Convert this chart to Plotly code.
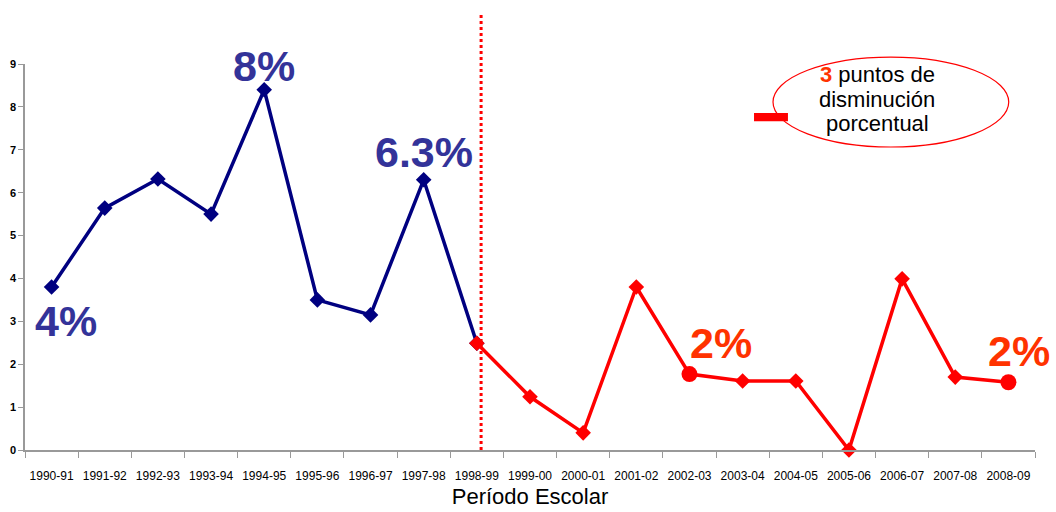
import plotly.graph_objects as go

periods = ["1990-91", "1991-92", "1992-93", "1993-94", "1994-95", "1995-96", "1996-97",
           "1997-98", "1998-99", "1999-00", "2000-01", "2001-02", "2002-03", "2003-04",
           "2004-05", "2005-06", "2006-07", "2007-08", "2008-09"]
blue_periods = periods[:9]
blue_values = [3.80, 5.64, 6.32, 5.50, 8.40, 3.50, 3.15, 6.30, 2.49]
red_periods = periods[8:]
red_values = [2.49, 1.24, 0.40, 3.80, 1.77, 1.61, 1.61, 0.0, 3.99, 1.70, 1.58]
red_symbols = ["diamond", "diamond", "diamond", "diamond", "circle", "diamond",
               "diamond", "diamond", "diamond", "diamond", "circle"]
red_sizes = [12, 12, 12, 12, 16, 12, 12, 12, 12, 12, 16]

label_texts = ["4%", "8%", "6.3%", "2%", "2%"]
label_x = ["1990-91", "1994-95", "1997-98", "2002-03", "2008-09"]
label_y = [3.0, 8.95, 6.95, 2.5, 2.3]
label_colors = ["#333399", "#333399", "#333399", "#FF3300", "#FF3300"]
label_xshift = [14, 0, 0, 32, 11]

note_lines = ["<b><span style='color:#FF3300'>3</span></b> puntos de", "disminución", "porcentual"]
note_y = [0.974, 0.909, 0.845]

fig = go.Figure()
fig.add_trace(go.Scatter(
    x=blue_periods, y=blue_values, mode="lines+markers",
    line=dict(color="#000080", width=3.5),
    marker=dict(symbol="diamond", size=12, color="#000080", opacity=1),
    cliponaxis=False, showlegend=False, hoverinfo="skip"))
fig.add_trace(go.Scatter(
    x=red_periods, y=red_values, mode="lines+markers",
    line=dict(color="#FF0000", width=3.5),
    marker=dict(symbol=red_symbols, size=red_sizes, color="#FF0000", opacity=1,
                line=dict(width=0)),
    cliponaxis=False, showlegend=False, hoverinfo="skip"))

for t, x, y, c, xs in zip(label_texts, label_x, label_y, label_colors, label_xshift):
    fig.add_annotation(x=x, y=y, text="<b>%s</b>" % t, showarrow=False, xshift=xs,
                       xanchor="center", yanchor="middle",
                       font=dict(family="Liberation Sans, Arial, sans-serif", size=43, color=c))

# vertical dotted separator
fig.add_shape(type="line", xref="x", yref="paper", x0=8.08, x1=8.08, y0=0, y1=1.13,
              line=dict(color="#FF0000", width=3, dash="dot"))

# ellipse note
fig.add_shape(type="circle", xref="paper", yref="paper", x0=0.7406, x1=0.974,
              y0=0.785, y1=1.018, line=dict(color="#FF0000", width=1.2))
for t, y in zip(note_lines, note_y):
    fig.add_annotation(xref="paper", yref="paper", x=0.8436, y=y, showarrow=False,
                       xanchor="center", yanchor="middle", text=t,
                       font=dict(family="Liberation Sans, Arial, sans-serif", size=22,
                                 color="#000000"))
fig.add_shape(type="rect", xref="paper", yref="paper", x0=0.7218, x1=0.7554,
              y0=0.852, y1=0.873, line=dict(width=0), fillcolor="#FF0000")

fig.update_layout(
    width=1056, height=512,
    margin=dict(l=25, r=21, t=64, b=62),
    paper_bgcolor="white", plot_bgcolor="white",
    xaxis=dict(type="category", categoryorder="array", categoryarray=periods,
               range=[-0.5, 18.5], showgrid=False, showline=True, linecolor="#999999",
               linewidth=1.5, ticks="outside", tickson="boundaries", ticklen=6,
               tickcolor="#999999", zeroline=False, tickangle=0, automargin=False,
               ticklabelstandoff=14,
               tickfont=dict(family="Liberation Sans, Arial, sans-serif",
                             size=12, color="#000000"),
               title=dict(text="Período Escolar", standoff=6,
                          font=dict(family="Liberation Sans, Arial, sans-serif", size=22,
                                    color="#000000"))),
    yaxis=dict(range=[0, 9], tickvals=list(range(10)), showgrid=False, showline=True,
               linecolor="#999999", linewidth=1.5, ticks="outside", ticklen=5,
               tickcolor="#999999", zeroline=False, automargin=False,
               tickfont=dict(family="Liberation Sans, Arial, sans-serif",
                             size=11, color="#000000", weight="bold")),
)

fig.write_html("out.html", config={"displayModeBar": False},
               post_script="document.body.style.margin='0';")
